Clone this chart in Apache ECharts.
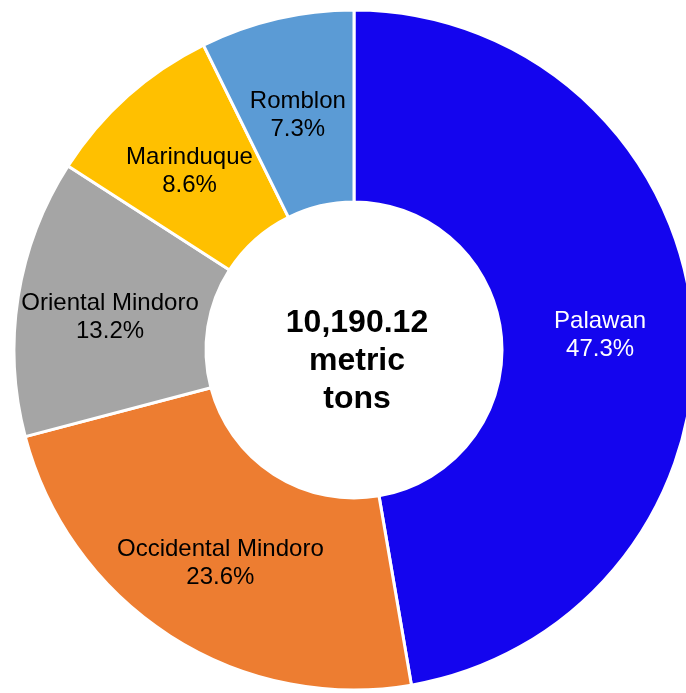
<!DOCTYPE html>
<html>
<head>
<meta charset="utf-8">
<script src="https://cdn.jsdelivr.net/npm/echarts@6/dist/echarts.min.js"></script>
<style>
  html, body { margin: 0; padding: 0; background: #fff; }
  #chart { width: 686px; height: 693px; }
</style>
</head>
<body>
<div id="chart"></div>
<script>
// share of total production by province (percent)
var provinces = ['Palawan', 'Occidental Mindoro', 'Oriental Mindoro', 'Marinduque', 'Romblon']
var shares = [47.3, 23.6, 13.2, 8.6, 7.3]
var colors = ['#1405EE', '#ED7D31', '#A5A5A5', '#FFC000', '#5B9BD5']
var labelColors = ['#ffffff', '#000000', '#000000', '#000000', '#000000']
var totalText = '10,190.12\nmetric\ntons'

var chart = echarts.init(document.getElementById('chart'))

chart.setOption({
  animation: false,
  graphic: [
    {
      type: 'text',
      left: 357 - 100,
      top: 384 - 80,
      style: {
        text: totalText,
        width: 200,
        x: 100,
        y: 80,
        textAlign: 'center',
        textVerticalAlign: 'middle',
        fontFamily: 'Liberation Sans, Arial, sans-serif',
        fontWeight: 'bold',
        fontSize: 32,
        lineHeight: 38,
        fill: '#000'
      }
    }
  ],
  series: [
    {
      type: 'pie',
      center: [354, 350],
      radius: [148, 340],
      startAngle: 90,
      clockwise: true,
      percentPrecision: 1,
      itemStyle: {
        borderColor: '#fff',
        borderWidth: 3
      },
      label: {
        show: true,
        position: 'inside',
        formatter: '{b}\n{d}%',
        fontFamily: 'Liberation Sans, Arial, sans-serif',
        fontSize: 24,
        lineHeight: 28,
        offset: [0, 6]
      },
      labelLine: { show: false },
      data: provinces.map(function (name, i) {
        return {
          name: name,
          value: shares[i],
          itemStyle: { color: colors[i] },
          label: { color: labelColors[i] }
        }
      })
    }
  ]
})
</script>
</body>
</html>
